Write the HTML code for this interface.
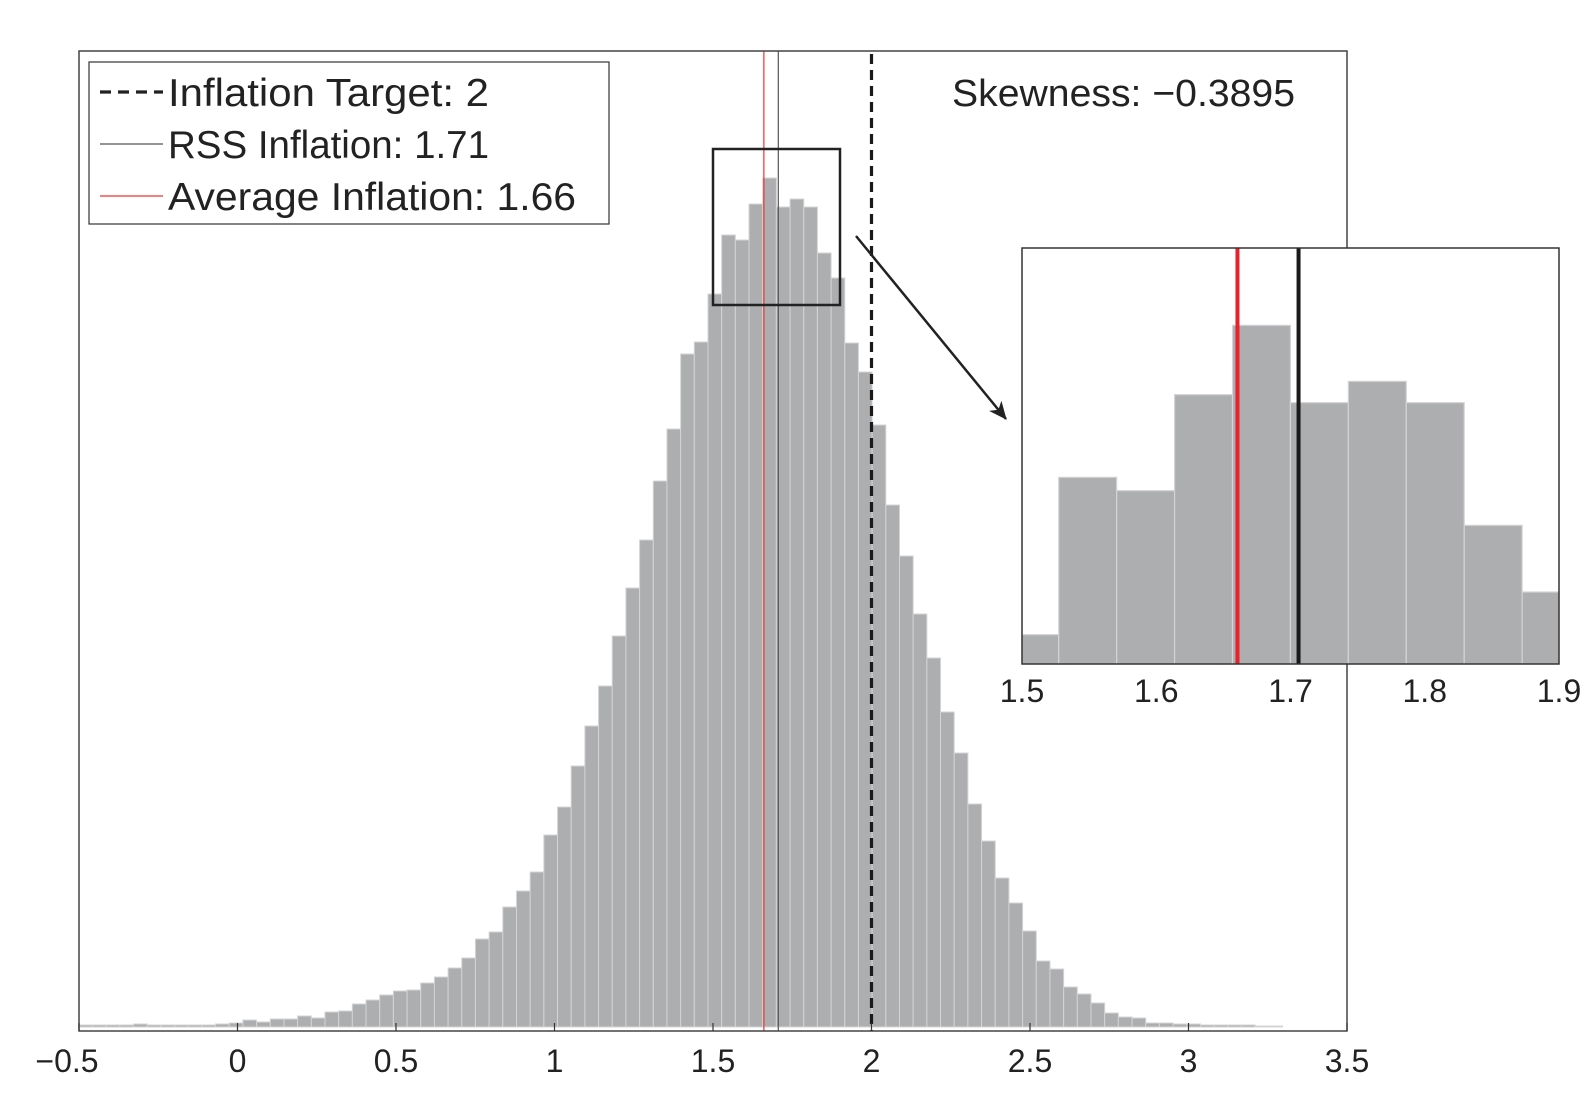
<!DOCTYPE html>
<html><head><meta charset="utf-8">
<style>
html,body{margin:0;padding:0;background:#fff;}
svg{display:block;font-family:"Liberation Sans",Arial,sans-serif;}
</style></head>
<body>
<svg id="chart" width="1592" height="1096" viewBox="0 0 1592 1096" xmlns="http://www.w3.org/2000/svg">
  <defs>
    <clipPath id="insetClip"><rect x="1022" y="248" width="537" height="416"/></clipPath>
    <marker id="arrowHead" markerWidth="20" markerHeight="16" refX="17" refY="8" orient="auto" markerUnits="userSpaceOnUse">
      <path d="M0,0 L18,8 L0,16 L5,8 Z" fill="#222"/>
    </marker>
  </defs>
  <rect x="0" y="0" width="1592" height="1096" fill="#fff"/>
  <g id="mainBars"></g>
  <g id="mainLines"></g>
  <rect x="79" y="51" width="1268" height="980" fill="none" stroke="#444" stroke-width="1.5"/>
  <g id="mainTicks"></g>

  <g>
    <rect x="89" y="62" width="520" height="162" fill="#fff" stroke="#333" stroke-width="1.2"/>
    <line x1="100" y1="92" x2="163" y2="92" stroke="#222" stroke-width="3.2" stroke-dasharray="11,7"/>
    <text x="168" y="106" font-size="39" fill="#222" textLength="321" lengthAdjust="spacingAndGlyphs">Inflation Target: 2</text>
    <line x1="100" y1="144" x2="163" y2="144" stroke="#555" stroke-width="1.2"/>
    <text x="168" y="158" font-size="39" fill="#222" textLength="321" lengthAdjust="spacingAndGlyphs">RSS Inflation: 1.71</text>
    <line x1="100" y1="196" x2="163" y2="196" stroke="#e33" stroke-width="1.2"/>
    <text x="168" y="210" font-size="39" fill="#222" textLength="408" lengthAdjust="spacingAndGlyphs">Average Inflation: 1.66</text>
  </g>
  <text x="952" y="106" font-size="38" fill="#222" textLength="343" lengthAdjust="spacingAndGlyphs">Skewness: −0.3895</text>

  <rect x="713" y="149" width="127" height="156" fill="none" stroke="#222" stroke-width="2.5"/>
  <line x1="856" y1="236" x2="1006" y2="419" stroke="#222" stroke-width="2.5" marker-end="url(#arrowHead)"/>

  <g>
    <rect x="1022" y="248" width="537" height="416" fill="#fff"/>
    <g id="insetBars" clip-path="url(#insetClip)"></g>
    <g id="insetLines"></g>
    <rect x="1022" y="248" width="537" height="416" fill="none" stroke="#333" stroke-width="1.5"/>
    <g id="insetTicks"></g>
  </g>
</svg>
<script>
// ---- data ----
const binStart = -0.5007;
const binWidth = 0.04315;
const binCounts = [2,2,2,2,3,2,2,2,2,2,3,4,7,5,8,8,11,9,15,16,23,27,32,36,37,44,50,59,69,88,95,120,136,155,
  192,220,261,301,341,391,439,487,546,598,673,685,733,792,787,823,849,820,828,820,774,749,684,655,602,
  522,471,413,369,315,274,223,186,149,124,96,66,58,40,33,24,14,10,9,4,4,3,3,2,2,2,2,1,1];
const mainTicks = [-0.5,0,0.5,1,1.5,2,2.5,3,3.5];
const mainTickLabels = ["−0.5","0","0.5","1","1.5","2","2.5","3","3.5"];
const insetTicks = [1.5,1.6,1.7,1.8,1.9];
const insetTickLabels = ["1.5","1.6","1.7","1.8","1.9"];
const targetValue = 2;
const rssValue = 1.706;
const averageValue = 1.6605;

// ---- scales ----
const NS = "http://www.w3.org/2000/svg";
function xMain(v){ return 79 + (v + 0.5) * 317; }
function yMain(c){ return 1027 - c; }
function xInset(v){ return 1022 + (v - 1.5) * 1342.5; }
function yInset(c){ return 664 - (c - 722) * (416 / 156); }
function mk(tag, attrs, parent){
  const e = document.createElementNS(NS, tag);
  for (const k in attrs) e.setAttribute(k, attrs[k]);
  parent.appendChild(e);
  return e;
}

const mainBars = document.getElementById('mainBars');
const insetBars = document.getElementById('insetBars');
binCounts.forEach((c, i) => {
  const x0 = binStart + i * binWidth, x1 = x0 + binWidth;
  const b = mk('rect', {x: xMain(x0), y: yMain(c), width: xMain(x1) - xMain(x0), height: yMain(0) - yMain(c), fill: '#adaeb0', stroke: '#d4d4d6', 'stroke-width': 1}, mainBars);
  
  
  if (x1 > 1.45 && x0 < 1.95) {
    const ib = mk('rect', {x: xInset(x0), y: yInset(c), width: xInset(x1) - xInset(x0), height: Math.max(0, 664 - yInset(c)), fill: '#adaeb0', stroke: '#d4d4d6', 'stroke-width': 1.2}, insetBars);
    
    
  }
});

const ml = document.getElementById('mainLines');
let l = mk('line', {x1: xMain(averageValue), x2: xMain(averageValue), y1: 51, y2: 1031, stroke: '#e33', 'stroke-width': 1.2}, ml);


l = mk('line', {x1: xMain(rssValue), x2: xMain(rssValue), y1: 51, y2: 1031, stroke: '#555', 'stroke-width': 1.2}, ml);


l = mk('line', {x1: xMain(targetValue), x2: xMain(targetValue), y1: 54, y2: 1031, stroke: '#1a1a1a', 'stroke-width': 3.2, 'stroke-dasharray': '10,6'}, ml);



const il = document.getElementById('insetLines');
l = mk('line', {x1: xInset(averageValue), x2: xInset(averageValue), y1: 248, y2: 664, stroke: '#e8212a', 'stroke-width': 4}, il);


l = mk('line', {x1: xInset(rssValue), x2: xInset(rssValue), y1: 248, y2: 664, stroke: '#1a1a1a', 'stroke-width': 4}, il);



const mt = document.getElementById('mainTicks');
mainTicks.forEach((v, i) => {
  const x = xMain(v);
  const t = mk('line', {x1: x, x2: x, y1: 1031, y2: 1023, stroke: '#333', 'stroke-width': 1.2}, mt);
  
  
  const tx = mk('text', {x: i === 0 ? x - 12 : x, y: 1072, 'text-anchor': 'middle', 'font-size': 32, fill: '#222'}, mt);
  tx.textContent = mainTickLabels[i];
  
  
});

const it = document.getElementById('insetTicks');
insetTicks.forEach((v, i) => {
  const x = xInset(v);
  const tx = mk('text', {x: x, y: 702, 'text-anchor': 'middle', 'font-size': 32, fill: '#222'}, it);
  tx.textContent = insetTickLabels[i];
  
  
});
</script>
</body></html>
